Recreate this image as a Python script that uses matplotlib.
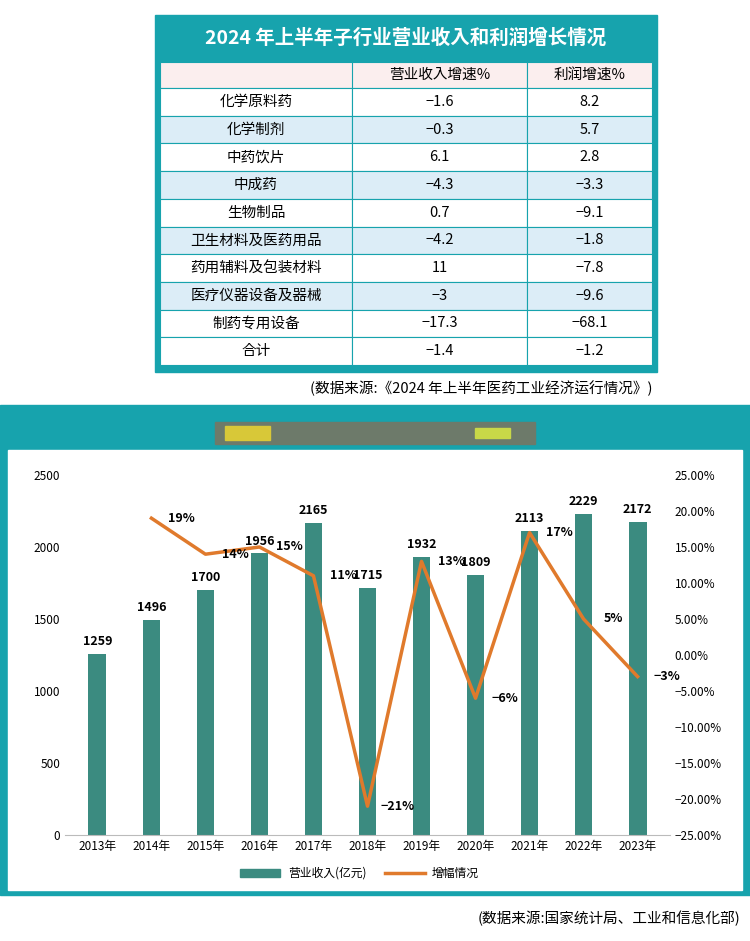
import numpy as np
import matplotlib
matplotlib.use("Agg")
import matplotlib.pyplot as plt
from matplotlib.patches import Rectangle
from matplotlib.ticker import FuncFormatter

plt.rcParams["font.family"] = ["Noto Sans CJK JP", "Noto Sans CJK SC", "Noto Sans CJK TC",
                               "Noto Sans CJK KR", "DejaVu Sans"]
plt.rcParams["axes.unicode_minus"] = False

# table data
sectors = ["化学原料药", "化学制剂", "中药饮片", "中成药", "生物制品", "卫生材料及医药用品",
           "药用辅料及包装材料", "医疗仪器设备及器械", "制药专用设备", "合计"]
rev_growth = ["−1.6", "−0.3", "6.1", "−4.3", "0.7", "−4.2", "11", "−3", "−17.3", "−1.4"]
profit_growth = ["8.2", "5.7", "2.8", "−3.3", "−9.1", "−1.8", "−7.8", "−9.6", "−68.1", "−1.2"]

# chart data
years = ["2013年", "2014年", "2015年", "2016年", "2017年", "2018年", "2019年", "2020年",
         "2021年", "2022年", "2023年"]
revenue = [1259, 1496, 1700, 1956, 2165, 1715, 1932, 1809, 2113, 2229, 2172]
growth = [None, 19, 14, 15, 11, -21, 13, -6, 17, 5, -3]

TEAL = "#17a3ad"
BAR = "#3b8b80"
LINE = "#e07a2c"

fig = plt.figure(figsize=(7.5, 9.41), dpi=100)
bg = fig.add_axes([0, 0, 1, 1])
bg.set_xlim(0, 750)
bg.set_ylim(941, 0)
bg.axis("off")

# ---- table ----
bg.add_patch(Rectangle((155, 15), 502, 357, color=TEAL))
bg.text(406, 38, "2024 年上半年子行业营业收入和利润增长情况", color="white",
        fontsize=14, fontweight="bold", ha="center", va="center")
cols = [160, 352, 527, 652]
bg.add_patch(Rectangle((160, 62), 492, 26, facecolor="#fbeeee", edgecolor=TEAL, lw=0.8))
for x0, x1, t in [(352, 527, "营业收入增速%"), (527, 652, "利润增速%")]:
    bg.add_patch(Rectangle((x0, 62), x1 - x0, 26, facecolor="#fbeeee", edgecolor=TEAL, lw=0.8))
    bg.text((x0 + x1) / 2, 75, t, fontsize=10.5, ha="center", va="center")
rh = 27.7
for i, (s, r, p) in enumerate(zip(sectors, rev_growth, profit_growth)):
    y0 = 88 + i * rh
    fc = "#dcedf7" if i % 2 == 1 and i < 9 else "white"
    for j, t in enumerate([s, r, p]):
        bg.add_patch(Rectangle((cols[j], y0), cols[j + 1] - cols[j], rh,
                               facecolor=fc, edgecolor=TEAL, lw=0.8))
        bg.text((cols[j] + cols[j + 1]) / 2, y0 + rh / 2, t, fontsize=10.5,
                ha="center", va="center")
bg.text(652, 388, "(数据来源:《2024 年上半年医药工业经济运行情况》)", fontsize=10.5,
        ha="right", va="center")

# ---- chart panel ----
bg.add_patch(Rectangle((0, 405), 750, 490, color=TEAL))
bg.add_patch(Rectangle((8, 450), 734, 440, color="white"))
bg.add_patch(Rectangle((215, 422), 320, 22, color="#6d7a6a"))
bg.add_patch(Rectangle((225, 426), 45, 14, color="#d8c838"))
bg.add_patch(Rectangle((475, 428), 35, 10, color="#c8d848"))
bg.text(740, 918, "(数据来源:国家统计局、工业和信息化部)", fontsize=10.5,
        ha="right", va="center")

ax = fig.add_axes([65 / 750, 1 - 835 / 941, 605 / 750, 360 / 941])
x = np.arange(len(years))
ax.bar(x, revenue, width=0.33, color=BAR)
for xi, v in zip(x, revenue):
    ax.text(xi, v + 40, str(v), ha="center", va="bottom", fontsize=9, fontweight="bold")
ax.set_ylim(0, 2500)
ax.set_yticks(range(0, 2501, 500))
ax.set_xlim(-0.6, len(years) - 0.4)
ax.set_xticks(x)
ax.set_xticklabels(years, fontsize=8.5)
ax.tick_params(axis="y", labelsize=8.5, length=0)
ax.tick_params(axis="x", length=0)
for sp in ["top", "right", "left"]:
    ax.spines[sp].set_visible(False)
ax.spines["bottom"].set_color("#bbbbbb")

ax2 = ax.twinx()
gx = [xi for xi, g in zip(x, growth) if g is not None]
gy = [g for g in growth if g is not None]
ax2.plot(gx, gy, color=LINE, lw=2.5)
for xi, g in zip(gx, gy):
    lbl = f"{g}%" if g >= 0 else f"−{-g}%"
    ax2.text(xi + 0.55, g, lbl, ha="center", va="center", fontsize=9, fontweight="bold")
ax2.set_ylim(-25, 25)
ax2.set_yticks(range(-25, 26, 5))
ax2.yaxis.set_major_formatter(FuncFormatter(lambda v, p: f"{v:.2f}%".replace("-", "−")))
ax2.tick_params(axis="y", labelsize=8.5, length=0)
for sp in ["top", "right", "left", "bottom"]:
    ax2.spines[sp].set_visible(False)

# legend
bg.add_patch(Rectangle((240, 869), 40, 8, color=BAR))
bg.text(288, 873, "营业收入(亿元)", fontsize=8.5, va="center")
bg.plot([385, 425], [873, 873], color=LINE, lw=2.5)
bg.text(432, 873, "增幅情况", fontsize=8.5, va="center")

fig.savefig("out.png", dpi=100)
